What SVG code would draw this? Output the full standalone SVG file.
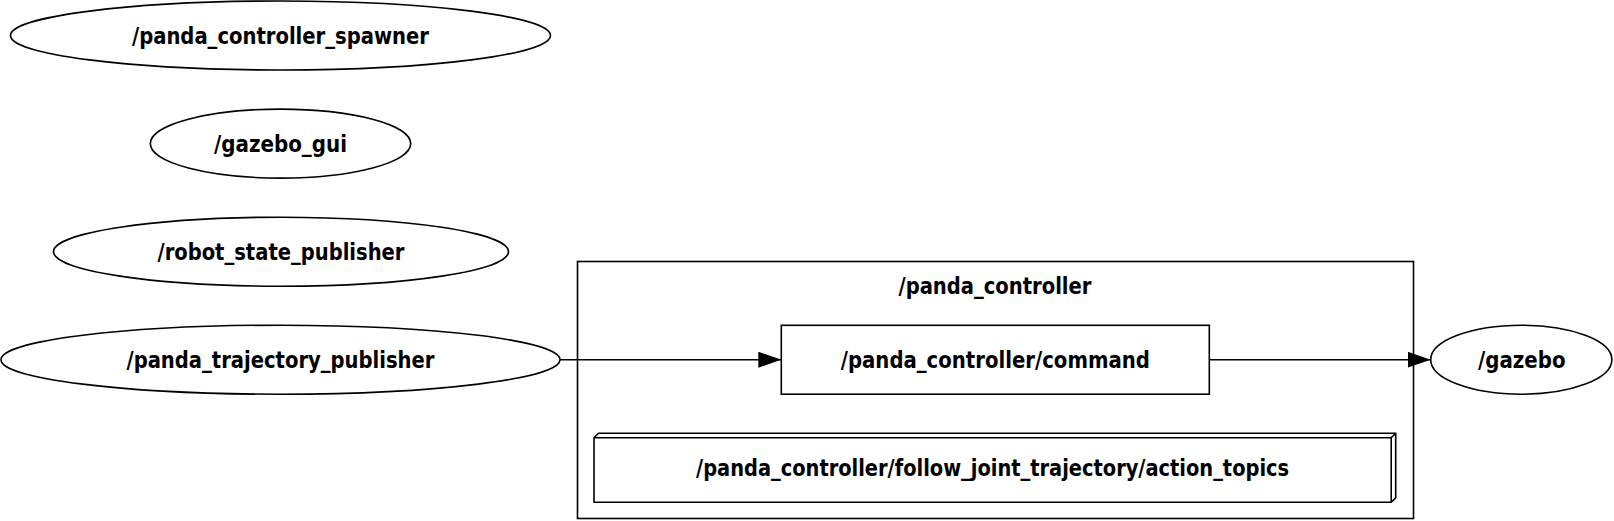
<svg xmlns="http://www.w3.org/2000/svg" width="1614" height="521" viewBox="0 0 1614 521">
<style>
.shape{fill:none;stroke:#000;stroke-width:1.6}
.lbl{font-family:"DejaVu Sans Condensed","DejaVu Sans",sans-serif;font-weight:bold;font-size:23px;text-anchor:middle;fill:#000}
.edge{fill:none;stroke:#000;stroke-width:1.6}
</style>
<defs>
<marker id="arr" viewBox="0 0 23 16" refX="23" refY="8" markerWidth="23" markerHeight="16" markerUnits="userSpaceOnUse" orient="auto">
<path d="M0,0 L23,8 L0,16 Z" fill="#000"/>
</marker>
</defs>
<rect x="0" y="0" width="1614" height="521" fill="#fff"/>
<g id="cluster_panda_controller">
<rect class="shape" x="577.5" y="261.5" width="836" height="257"/>
<text class="lbl" x="995" y="294" textLength="193" lengthAdjust="spacingAndGlyphs">/panda_controller</text>
</g>
<g id="node_spawner">
<ellipse class="shape" cx="280.5" cy="35.5" rx="270" ry="34.5"/>
<text class="lbl" x="280.5" y="44" textLength="297" lengthAdjust="spacingAndGlyphs">/panda_controller_spawner</text>
</g>
<g id="node_gazebo_gui">
<ellipse class="shape" cx="280.5" cy="143.6" rx="130.2" ry="34.5"/>
<text class="lbl" x="280.5" y="152" textLength="133" lengthAdjust="spacingAndGlyphs">/gazebo_gui</text>
</g>
<g id="node_robot_state_publisher">
<ellipse class="shape" cx="281" cy="251.7" rx="227.5" ry="34.5"/>
<text class="lbl" x="281" y="260" textLength="247" lengthAdjust="spacingAndGlyphs">/robot_state_publisher</text>
</g>
<g id="node_trajectory_publisher">
<ellipse class="shape" cx="280.5" cy="359.7" rx="279.5" ry="34.5"/>
<text class="lbl" x="280.5" y="368" textLength="308" lengthAdjust="spacingAndGlyphs">/panda_trajectory_publisher</text>
</g>
<g id="node_command">
<rect class="shape" x="781.3" y="325.3" width="428" height="68.9"/>
<text class="lbl" x="995.3" y="368" textLength="309" lengthAdjust="spacingAndGlyphs">/panda_controller/command</text>
</g>
<g id="node_action_topics">
<path class="shape" d="M594,437.8 L598.5,433.3 L1395.7,433.3 L1395.7,497.8 L1391.2,502.3 L594,502.3 Z M594,437.8 L1391.2,437.8 L1395.7,433.3 M1391.2,437.8 L1391.2,502.3"/>
<text class="lbl" x="992.6" y="476" textLength="593" lengthAdjust="spacingAndGlyphs">/panda_controller/follow_joint_trajectory/action_topics</text>
</g>
<g id="node_gazebo">
<ellipse class="shape" cx="1521.3" cy="359.7" rx="90.6" ry="34.5"/>
<text class="lbl" x="1521.8" y="368" textLength="87.5" lengthAdjust="spacingAndGlyphs">/gazebo</text>
</g>
<g id="connectors">
<path class="edge" d="M560,359.7 L781.3,359.7" marker-end="url(#arr)"/>
<path class="edge" d="M1209.3,359.7 L1430.7,359.7" marker-end="url(#arr)"/>
</g>
</svg>
